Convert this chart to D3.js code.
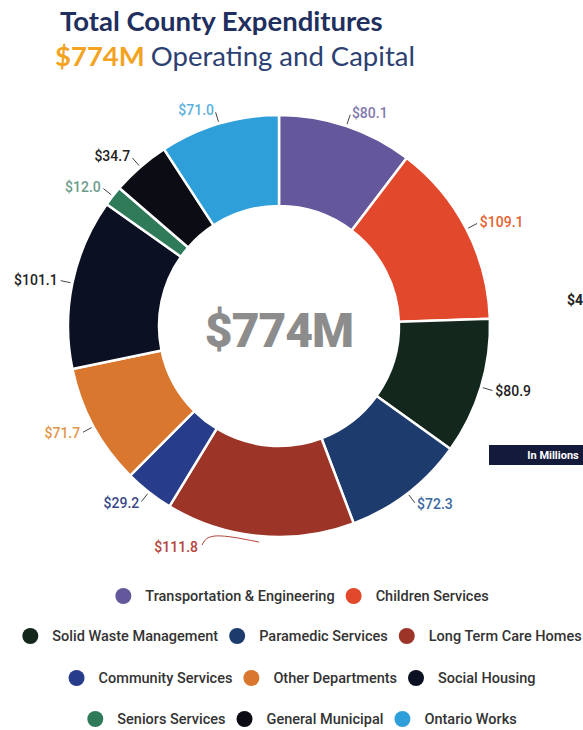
<!DOCTYPE html>
<html>
<head>
<meta charset="utf-8">
<script src="https://cdn.jsdelivr.net/npm/d3@7"></script>
<style>
  body { margin: 0; background: #fff; }
  svg { display: block; font-family: Roboto, "Noto Sans", sans-serif; }
</style>
</head>
<body>
<svg id="grafico"></svg>
<script>
const categorias = ['Transportation & Engineering', 'Children Services', 'Solid Waste Management',
  'Paramedic Services', 'Long Term Care Homes', 'Community Services', 'Other Departments',
  'Social Housing', 'Seniors Services', 'General Municipal', 'Ontario Works'];
const valores = [80.1, 109.1, 80.9, 72.3, 111.8, 29.2, 71.7, 101.1, 12.0, 34.7, 71.0];
const cores = ['#65579b', '#e2482c', '#13271d', '#1d3b6c', '#9c3427', '#283c8c', '#d9772f',
  '#0b1022', '#2e7a59', '#0c0d14', '#2f9fd9'];
const coresRotulo = ['#8579ae', '#e4612f', '#222222', '#3b69a0', '#b5453a', '#3a4888', '#e3954a',
  '#222222', '#6d9c8c', '#222222', '#5cb1de'];
const linhasLegenda = [[0, 1], [2, 3, 4], [5, 6, 7], [8, 9, 10]];
const total = '$774M';

const largura = 583, altura = 730;
const svg = d3.select('#grafico').attr('width', largura).attr('height', altura);

// titulo
svg.append('text')
  .attr('x', 60).attr('y', 31)
  .style('font-family', 'Lato, sans-serif').style('font-weight', 700).style('font-size', '27.5px')
  .attr('fill', '#1f2f5e')
  .text('Total County Expenditures');

const sub = svg.append('text')
  .attr('x', 55).attr('y', 66)
  .style('font-family', 'Lato, sans-serif').style('font-size', '27.5px');
sub.append('tspan').attr('fill', '#f2a31f').style('font-weight', 700).text(total);
sub.append('tspan').attr('fill', '#2d4072').attr('dx', 6).style('font-weight', 400).text('Operating and Capital');

// rosca
const cx = 279, cy = 326;
const raioExt = 211, raioInt = 120;
const plotagem = svg.append('g').attr('transform', `translate(${cx}, ${cy})`);

const pizza = d3.pie().sort(null).value(d => d)(valores);
const arco = d3.arc().innerRadius(raioInt).outerRadius(raioExt);

plotagem.selectAll('.fatia')
  .data(pizza)
  .enter()
  .append('path')
  .classed('fatia', true)
  .attr('d', arco)
  .attr('fill', (d, i) => cores[i])
  .attr('stroke', '#fff')
  .attr('stroke-width', 2.5);

// rotulos
const meio = d => (d.startAngle + d.endAngle) / 2;
const ponto = (a, r) => [Math.sin(a) * r, -Math.cos(a) * r];

pizza.forEach((d, i) => {
  const a = meio(d);
  const direita = Math.sin(a) > 0;
  let p0 = ponto(a, raioExt + 2);
  let p1 = ponto(a, raioExt + 12);
  let pts = [p0, p1];
  let texto = ponto(a, raioExt + 14);
  let ancora = direita ? 'start' : 'end';
  if (i === 4) {
    // rotulo deslocado para a esquerda, como no original
    p0 = ponto(a, raioExt + 6);
    pts = [p0, [p0[0] - 50, p0[1] - 10], [p0[0] - 57, p0[1] + 3]];
    texto = [p0[0] - 60, p0[1] + 5];
    ancora = 'end';
  }
  plotagem.append('path')
    .attr('d', d3.line().curve(d3.curveBasis)(pts))
    .attr('fill', 'none')
    .attr('stroke', i === 4 ? coresRotulo[i] : '#444')
    .attr('stroke-width', 1);
  plotagem.append('text')
    .attr('x', texto[0] + (direita && i !== 4 ? 1 : -1))
    .attr('y', texto[1])
    .attr('dy', '0.35em')
    .style('text-anchor', ancora)
    .style('font-size', '14px')
    .style('font-weight', 500)
    .attr('fill', coresRotulo[i])
    .text('$' + d3.format('.1f')(valores[i]));
});

// valor central
plotagem.append('text')
  .attr('x', 0).attr('y', 4)
  .attr('dy', '0.35em')
  .style('text-anchor', 'middle')
  .style('font-size', '48px')
  .style('font-weight', 900)
  .style('letter-spacing', '-1px')
  .attr('fill', '#8c8c8c')
  .text(total);

// elementos da direita (grafico vizinho cortado)
svg.append('text')
  .attr('x', 567).attr('y', 305)
  .style('font-size', '14px').style('font-weight', 700).attr('fill', '#222')
  .text('$4');
svg.append('rect')
  .attr('x', 489).attr('y', 445).attr('width', 100).attr('height', 20)
  .attr('fill', '#141a3a');
svg.append('text')
  .attr('x', 553).attr('y', 455).attr('dy', '0.35em')
  .style('text-anchor', 'middle')
  .style('font-size', '11px').style('font-weight', 700).attr('fill', '#fff')
  .text('In Millions');

// legenda
const legendaY = [596, 636, 678, 719];
const centroLegenda = 302;
linhasLegenda.forEach((linha, k) => {
  const g = svg.append('g');
  let x = 0;
  linha.forEach((i, j) => {
    const item = g.append('g').attr('transform', `translate(${x}, 0)`);
    item.append('circle').attr('cx', 8).attr('cy', 0).attr('r', 8).attr('fill', cores[i]);
    const t = item.append('text')
      .attr('x', 30).attr('y', 0).attr('dy', '0.35em')
      .style('font-size', '14.5px').style('font-weight', 500)
      .attr('fill', '#333')
      .text(categorias[i]);
    x += 30 + t.node().getComputedTextLength() + 11;
  });
  const w = x - 11;
  g.attr('transform', `translate(${centroLegenda - w / 2}, ${legendaY[k]})`);
});
</script>
</body>
</html>
